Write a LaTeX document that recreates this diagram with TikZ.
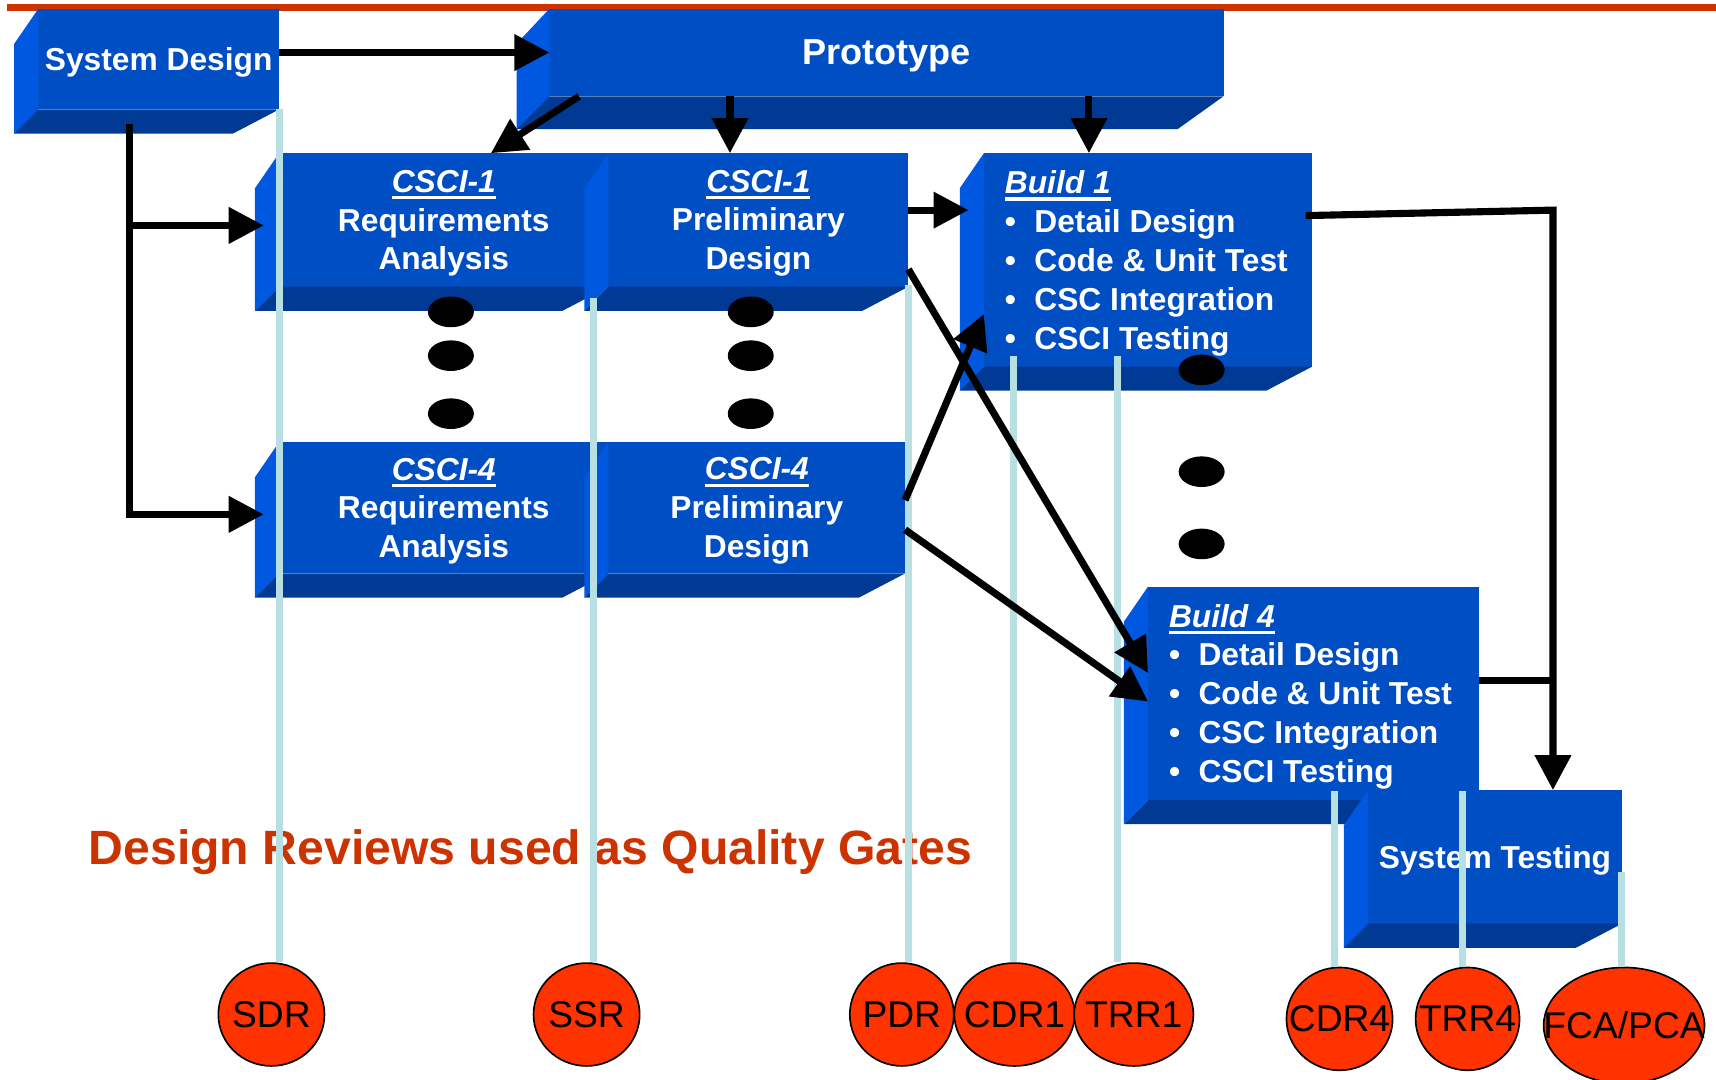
\documentclass[tikz,border=0pt]{standalone}
\usepackage{fontspec}
\setmainfont{Liberation Sans}
\usetikzlibrary{calc,arrows.meta,shapes.geometric}
\tikzset{>={Triangle[length=32pt,width=32pt]}}

\definecolor{frontblue}{RGB}{0,78,196}
\definecolor{sideblue}{RGB}{0,88,224}
\definecolor{baseblue}{RGB}{0,58,148}
\definecolor{gateblue}{RGB}{184,224,226}
\definecolor{slidered}{RGB}{204,51,0}
\definecolor{reviewred}{RGB}{255,51,0}

\tikzset{
  blockface/.style={fill=frontblue, inner sep=0pt, outer sep=0pt, anchor=north west},
  blocktext/.style={text=white, font=\bfseries\fontsize{29}{35.5}\selectfont, inner sep=0pt, yshift=-3pt},
  flow/.style={->, line width=6.5pt, black},
  gateline/.style={line width=6.5pt, gateblue},
  review/.style={ellipse, draw=black, line width=1.5pt, fill=reviewred, inner sep=0pt,
    minimum width=97pt, minimum height=94pt, font=\fontsize{34}{40}\selectfont}
}

% underlined heading and bullet for the block texts
\newcommand{\ulhead}[1]{\setbox0\hbox{#1}\rlap{\rule[-6.5pt]{\wd0}{3pt}}\box0}
\newcommand{\itembul}{\makebox[27pt][l]{\textbullet}}

% 3D block: [depth] name, front face x1, y1, x2, y2
\newcommand{\blockbox}[6][22]{%
  \node[blockface, minimum width=#5-#3, minimum height=#6-#4] (#2) at (#3,#4) {};
  \fill[sideblue] (#2.north west) -- ++(-#1,32) -- ($(#2.south west)+(-#1,#1)$) -- (#2.south west) -- cycle;
  \fill[baseblue] (#2.south west) -- ++(-#1,#1) -- ($(#2.south east)+(-42,#1)$) -- (#2.south east) -- cycle;
}

\begin{document}
\begin{tikzpicture}[x=1pt,y=-1pt]
  \useasboundingbox (0,0) rectangle (1568,986);

  % Rule along the top
  \draw[slidered, line width=7pt] (6,7) -- (1568,7);

  % Draw the blocks
  \blockbox{sysdesign}{35}{8}{255}{100}
  \blockbox[30]{proto}{502}{8}{1118}{88}
  \blockbox{req1}{255}{140}{556}{262}
  \blockbox{prel1}{556}{140}{830}{262}
  \blockbox{req4}{255}{404}{556}{524}
  \blockbox{prel4}{556}{404}{827}{524}
  \blockbox{build1}{899}{140}{1199}{335}
  \blockbox{build4}{1049}{536}{1351}{731}
  \blockbox{systest}{1250}{722}{1482}{844}

  % Block texts
  \node[blocktext] (sdtext) at (sysdesign) {System Design};
  \node[blocktext, font=\bfseries\fontsize{33}{40}\selectfont] (prototext) at (proto) {Prototype};
  \node[blocktext, align=center] (req1text) at (req1) {\ulhead{\textit{CSCI-1}}\\Requirements\\Analysis};
  \node[blocktext, align=center] (prel1text) at (prel1) {\ulhead{\textit{CSCI-1}}\\Preliminary\\Design};
  \node[blocktext, align=center] (req4text) at (req4) {\ulhead{\textit{CSCI-4}}\\Requirements\\Analysis};
  \node[blocktext, align=center] (prel4text) at (prel4) {\ulhead{\textit{CSCI-4}}\\Preliminary\\Design};
  \node[blocktext, align=left, anchor=west] (b1text) at ([xshift=19pt]build1.west)
    {\ulhead{\textit{Build 1}}\\\itembul Detail Design\\\itembul Code \& Unit Test\\\itembul CSC Integration\\\itembul CSCI Testing};
  \node[blocktext, align=left, anchor=west] (b4text) at ([xshift=19pt]build4.west)
    {\ulhead{\textit{Build 4}}\\\itembul Detail Design\\\itembul Code \& Unit Test\\\itembul CSC Integration\\\itembul CSCI Testing};
  \node[blocktext] (sttext) at (systest) {System Testing};

  \node[anchor=base west, inner sep=0pt, text=slidered, font=\bfseries\fontsize{44}{50}\selectfont]
    (gates) at (81,790) {Design Reviews used as Quality Gates};

  % Review ovals
  \node[review] (sdr) at (248,927) {\makebox[0pt]{SDR}};
  \node[review] (ssr) at (536,927) {\makebox[0pt]{SSR}};
  \node[review, minimum width=95pt] (pdr) at (824,927) {\makebox[0pt]{PDR}};
  \node[review, minimum width=110pt] (cdr1) at (927,927) {\makebox[0pt]{CDR1}};
  \node[review, minimum width=109pt] (trr1) at (1036,927) {\makebox[0pt]{TRR1}};
  \node[review] (cdr4) at (1224,931) {\makebox[0pt]{CDR4}};
  \node[review, minimum width=95pt] (trr4) at (1341,931) {\makebox[0pt]{TRR4}};
  \node[review, minimum width=147pt, minimum height=106pt] (fca) at (1484,937) {\makebox[0pt]{FCA/PCA}};

  % Gate lines down to the reviews
  \foreach \gx/\gy/\rv in {255/100/sdr, 542/272/ssr, 830/260/pdr, 926/325/cdr1,
                            1021/325/trr1, 1219/723/cdr4, 1336/723/trr4, 1482/797/fca}{
    \coordinate (gate-\rv) at (\gx,\gy);
    \draw[gateline] (gate-\rv) -- (gate-\rv |- \rv.north);
  }

  % Draw the arrows
  \draw[flow] (sysdesign.east |- proto.west) -- (proto.west);
  \coordinate (sdfoot) at ([xshift=-27pt,yshift=-13pt]sysdesign.south);
  \coordinate (req1in) at ([xshift=-14pt,yshift=-5pt]req1.west);
  \draw[flow] (sdfoot) |- ([xshift=-14pt,yshift=-6pt]req4.west);
  \draw[flow] (sdfoot |- req1in) -- (req1in);

  \draw[flow] ([xshift=27pt]proto.south west) -- ([xshift=43pt]req1.north);
  \coordinate (prel1in) at ([xshift=-26pt]prel1.north);
  \draw[flow] (prel1in |- proto.south) -- (prel1in);
  \coordinate (build1in) at ([xshift=-54pt]build1.north);
  \draw[flow] (build1in |- proto.south) -- (build1in);

  \draw[flow] ([yshift=9pt]prel1.east) -- ([xshift=-14pt,yshift=-52pt]build1.north west);
  \draw[flow] ([yshift=7pt]prel4.east) -- ([yshift=48pt]build1.south west);
  \draw[flow] ([yshift=16pt]prel1.south east) -- ([yshift=-79pt]build4.north west);
  \draw[flow] ([yshift=-20pt]prel4.east) -- ([yshift=-105pt]build4.north west);

  \coordinate (merge) at (1419,192);
  \draw[flow] ([xshift=-6pt,yshift=-57pt]build1.north east) -- (merge) -- (merge |- systest.north);
  \coordinate (b4out) at ([yshift=12pt]build4.east);
  \draw[line width=6.5pt] (b4out) -- (b4out -| merge);

  % Dots between the CSCIs and the builds
  \foreach \dx in {412,686}{
    \foreach \dy in {285,325,378}
      \fill (\dx,\dy) ellipse [x radius=21, y radius=14];
  }
  \foreach \dy in {338,431,497}
    \fill (1098,\dy) ellipse [x radius=21, y radius=14];
\end{tikzpicture}
\end{document}
